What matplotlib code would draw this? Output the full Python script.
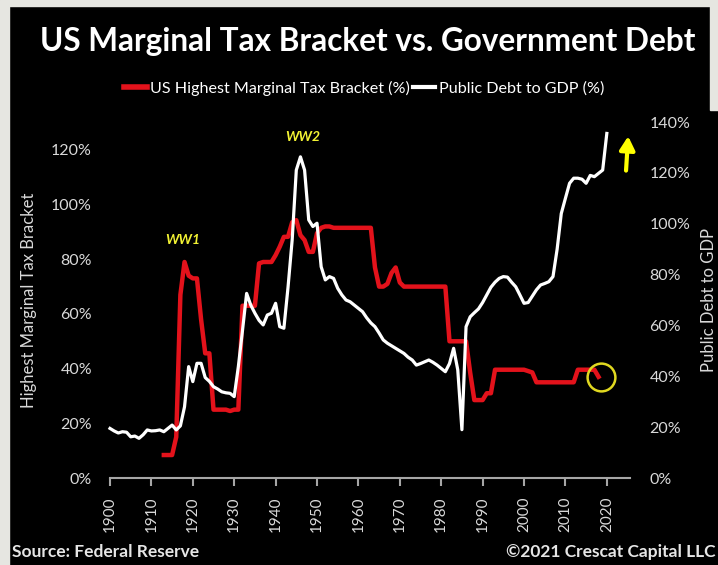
import matplotlib
matplotlib.use("Agg")
import matplotlib.pyplot as plt
from matplotlib.patches import Rectangle
from matplotlib.lines import Line2D

plt.rcParams['font.family'] = ['Lato', 'DejaVu Sans']

# top marginal tax rate (%), left axis
tax_years = list(range(1913, 2019))
tax_rate = [8.4, 8.4, 8.4, 15, 67, 79, 74, 73, 73, 58, 45.6, 45.6,
            25, 25, 25, 25, 24.5, 25, 25,
            63, 63, 63, 63, 78.5, 79, 79, 79, 81.5, 84.6, 88.2, 88.2, 93.5, 94.3,
            88.8, 87, 82.7, 82.7, 89.5, 91.5, 92, 92,
            91.5, 91.5, 91.5, 91.5, 91.5, 91.5, 91.5, 91.5, 91.5, 91.5,
            77, 70, 70, 71, 75, 77, 71.5,
            70, 70, 70, 70, 70, 70, 70, 70, 70, 70, 70,
            50, 50, 50, 50, 50, 38.5, 28.5, 28.5, 28.5, 31, 31,
            39.6, 39.6, 39.6, 39.6, 39.6, 39.6, 39.6, 39.6, 39.1, 38.6,
            35, 35, 35, 35, 35, 35, 35, 35, 35, 35,
            39.6, 39.6, 39.6, 39.6, 39.6, 37]

# public debt to GDP (%), right axis
debt_years = list(range(1900, 2021))
debt_gdp = [19.5, 18.5, 17.7, 18.2, 18.0, 16.2, 16.5, 15.6, 17.0, 18.9,
            18.5, 18.6, 18.9, 18.2, 19.5, 20.8, 18.9, 20.5, 28, 43.8,
            37.9, 45.1, 45.1, 39.5, 38, 35.9, 35, 33.9, 33.5, 33.3,
            32, 43.8, 58, 72.6, 68, 64.8, 62, 60.2, 64.1, 64.8,
            68.7, 59.5, 58.9, 75, 93.6, 121.1, 126.3, 121.1, 101.5, 98.9,
            100.2, 83.1, 77.9, 79.2, 78.5, 74.6, 72, 70, 69.3, 68,
            66.7, 65.4, 63, 61, 59.5, 57, 54.3, 53, 52, 51,
            50, 49, 47.5, 46.4, 44.4, 45, 45.7, 46.4, 45.5, 44.4,
            43.1, 41.8, 45, 51, 42.5, 19, 59.5, 63.4, 65, 66.5,
            69, 72, 75, 77, 78.5, 79.2, 79, 77, 75.2, 72,
            68.7, 69, 71.5, 74, 75.9, 76.5, 77.2, 79.2, 90, 104,
            110, 115.9, 117.9, 117.9, 117.5, 115.9, 119, 118.5, 119.8, 121.1,
            135.5]

decades = list(range(1900, 2021, 10))
left_ticks = list(range(0, 121, 20))
right_ticks = list(range(0, 141, 20))

red = '#e3121b'
grey_txt = '#d9d9d9'
yellow = '#f2f233'

fig = plt.figure(figsize=(7.18, 5.65), dpi=100)
fig.patch.set_facecolor('black')

# grey frame of the screenshot
frame = '#e6e6e1'
fig.add_artist(Rectangle((0, 0), 9/718, 1, transform=fig.transFigure, color=frame, zorder=0))
fig.add_artist(Rectangle((0, 559/565), 1, 6/565, transform=fig.transFigure, color=frame, zorder=0))
fig.add_artist(Rectangle((710/718, 455/565), 8/718, 110/565, transform=fig.transFigure, color=frame, zorder=0))

ax = fig.add_axes([110/718, 87/565, 520/718, 356/565])
ax.set_facecolor('black')
ax2 = ax.twinx()

ax.plot(tax_years, tax_rate, color=red, lw=3.2, solid_joinstyle='round')
ax2.plot(debt_years, debt_gdp, color='white', lw=2.3, clip_on=False, solid_joinstyle='round')

ax.set_xlim(1900, 2025.6)
ax.set_ylim(0, 130.2)
ax2.set_ylim(0, 140)

ax.set_xticks(decades)
ax.set_xticklabels([str(d) for d in decades], rotation=90, color=grey_txt, fontsize=11)
ax.set_yticks(left_ticks)
ax.set_yticklabels([f'{v}%' for v in left_ticks], color=grey_txt, fontsize=11.5)
ax2.set_yticks(right_ticks)
ax2.set_yticklabels([f'{v}%' for v in right_ticks], color=grey_txt, fontsize=11.5)

ax.tick_params(axis='x', length=6, width=1.5, color='#a6a6a6', pad=7)
ax.tick_params(axis='y', length=0, pad=13)
ax2.tick_params(axis='y', length=0, pad=14)

for s in ['left', 'right', 'top']:
    ax.spines[s].set_visible(False)
for s in ax2.spines:
    ax2.spines[s].set_visible(False)
ax.spines['bottom'].set_color('#a6a6a6')
ax.spines['bottom'].set_linewidth(1.5)

ax.set_ylabel('Highest Marginal Tax Bracket', color=grey_txt, fontsize=12)
ax.yaxis.set_label_coords(-0.14, 0.5)
ax2.set_ylabel('Public Debt to GDP', color=grey_txt, fontsize=12, rotation=90)
ax2.yaxis.set_label_coords(1.136, 0.5)

# annotations
ax.text(1917.6, 87, 'WW1', color=yellow, fontsize=10, fontweight='bold', style='italic', ha='center', va='center')
ax.text(1946.6, 124.7, 'WW2', color=yellow, fontsize=10, fontweight='bold', style='italic', ha='center', va='center')
ax.plot(tax_years[-1] + 0.5, tax_rate[-1], 'o', ms=20, mfc='none', mec='#e0d820', mew=1.8)
ax2.annotate('', xy=(2025.2, 135.5), xytext=(2024.6, 119.8),
             arrowprops=dict(arrowstyle='-|>,head_width=0.45,head_length=0.8', color='#ffff00', lw=3))

# legend
handles = [Line2D([], [], color=red, lw=4), Line2D([], [], color='white', lw=3)]
fig.legend(handles, ['US Highest Marginal Tax Bracket (%)', 'Public Debt to GDP (%)'],
           loc='center', bbox_to_anchor=(364/718, 477/565), ncol=2, frameon=False,
           fontsize=11.6, labelcolor='white', handlelength=1.4, handletextpad=0.2, columnspacing=0.2)

fig.text(368/718, 523/565, 'US Marginal Tax Bracket vs. Government Debt', color='white',
         fontsize=22.7, fontweight='bold', ha='center', va='center')
fig.text(12/718, 13/565, 'Source: Federal Reserve', color='#e6e6e6', fontsize=12.5,
         fontweight='bold', ha='left', va='center')
fig.text(716/718, 13/565, '\u00a92021 Crescat Capital LLC', color='#e6e6e6', fontsize=12.5,
         fontweight='bold', ha='right', va='center')

fig.savefig('out.png', dpi=100, facecolor=fig.get_facecolor())
